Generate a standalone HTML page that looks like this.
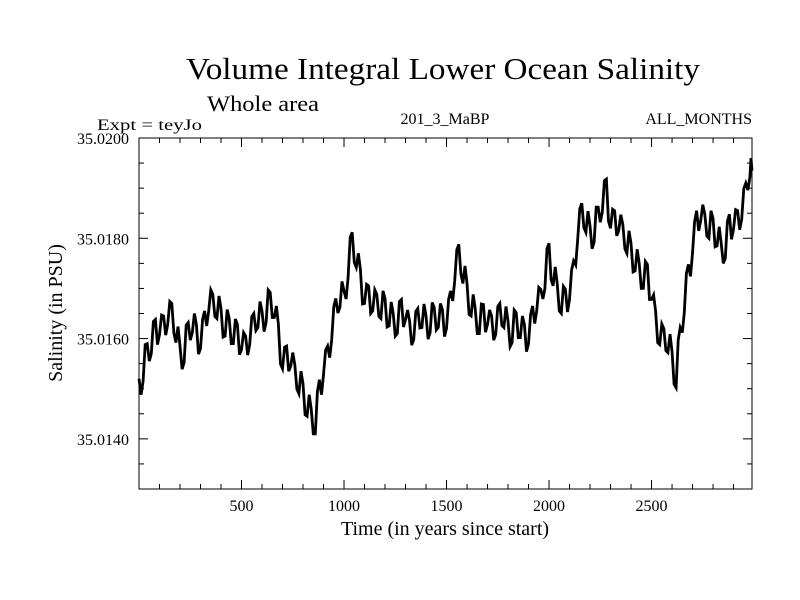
<!DOCTYPE html>
<html><head><meta charset="utf-8"><style>
html,body{margin:0;padding:0;background:#fff;}
svg{display:block;font-family:"Liberation Serif",serif;}
</style></head><body>
<svg id="chart" width="800" height="600" viewBox="0 0 800 600">
<text x="443" y="79" font-size="31" text-anchor="middle" textLength="514" lengthAdjust="spacingAndGlyphs">Volume Integral Lower Ocean Salinity</text>
<text x="207" y="111" font-size="22" textLength="112" lengthAdjust="spacingAndGlyphs">Whole area</text>
<text x="97" y="130" font-size="16" textLength="105" lengthAdjust="spacingAndGlyphs">Expt = teyJo</text>
<text x="445" y="124" font-size="16" text-anchor="middle">201_3_MaBP</text>
<text x="752" y="124" font-size="16" text-anchor="end">ALL_MONTHS</text>
<g id="axes"></g>
<g id="series"></g>
<rect x="139" y="138" width="613" height="351" fill="none" stroke="#000" stroke-width="1"/>
<text x="445" y="535" font-size="20" text-anchor="middle">Time (in years since start)</text>
<text transform="translate(62,313) rotate(-90)" font-size="20" text-anchor="middle">Salinity (in PSU)</text>
</svg>
<script>
const xTicks=[500,1000,1500,2000,2500];
const xTickLabels=["500","1000","1500","2000","2500"];
const yTicks=[35.014,35.016,35.018,35.020];
const yTickLabels=["35.0140","35.0160","35.0180","35.0200"];
// values at years 0,20,...,2980,2990
const salinity=[35.01520,35.01515,35.01590,35.01570,35.01638,35.01608,35.01645,35.01628,35.01670,35.01592,
35.01585,35.01552,35.01632,35.01612,35.01628,35.01580,35.01655,35.01655,35.01688,35.01640,
35.01660,35.01605,35.01640,35.01590,35.01628,35.01578,35.01605,35.01588,35.01650,35.01622,
35.01655,35.01632,35.01692,35.01642,35.01628,35.01540,35.01585,35.01545,35.01548,35.01490,
35.01510,35.01445,35.01460,35.01410,35.01518,35.01528,35.01585,35.01598,35.01680,35.01662,
35.01695,35.01722,35.01812,35.01742,35.01738,35.01670,35.01705,35.01655,35.01688,35.01640,
35.01680,35.01625,35.01650,35.01610,35.01678,35.01638,35.01635,35.01598,35.01660,35.01622,
35.01645,35.01612,35.01662,35.01622,35.01658,35.01620,35.01695,35.01715,35.01788,35.01710,
35.01710,35.01645,35.01660,35.01610,35.01668,35.01628,35.01645,35.01608,35.01670,35.01622,
35.01635,35.01592,35.01652,35.01602,35.01628,35.01590,35.01665,35.01655,35.01698,35.01700,
35.01790,35.01705,35.01710,35.01650,35.01698,35.01678,35.01755,35.01798,35.01870,35.01812,
35.01825,35.01792,35.01862,35.01852,35.01918,35.01820,35.01855,35.01815,35.01828,35.01770,
35.01790,35.01735,35.01750,35.01700,35.01748,35.01678,35.01655,35.01588,35.01620,35.01572,
35.01575,35.01502,35.01622,35.01652,35.01748,35.01770,35.01855,35.01835,35.01848,35.01800,
35.01840,35.01785,35.01790,35.01760,35.01848,35.01818,35.01855,35.01838,35.01910,35.01922,35.01935];
// in-between values at years 10,30,...,2970,2985
const salinityMid=[35.01488,35.01588,35.01555,35.01634,35.01588,35.01647,35.01607,35.01674,35.01611,35.01624,
35.01539,35.01627,35.01597,35.01650,35.01569,35.01638,35.01625,35.01697,35.01644,35.01685,
35.01603,35.01658,35.01590,35.01639,35.01568,35.01612,35.01567,35.01644,35.01616,35.01674,
35.01614,35.01697,35.01642,35.01665,35.01549,35.01583,35.01535,35.01572,35.01499,35.01535,
35.01448,35.01488,35.01410,35.01494,35.01488,35.01577,35.01562,35.01664,35.01651,35.01714,
35.01679,35.01802,35.01752,35.01770,35.01669,35.01708,35.01650,35.01697,35.01644,35.01695,
35.01623,35.01673,35.01605,35.01674,35.01623,35.01657,35.01587,35.01654,35.01621,35.01669,
35.01599,35.01672,35.01617,35.01670,35.01604,35.01678,35.01675,35.01777,35.01729,35.01745,
35.01648,35.01688,35.01610,35.01669,35.01613,35.01657,35.01597,35.01664,35.01626,35.01664,
35.01584,35.01657,35.01602,35.01645,35.01574,35.01648,35.01630,35.01702,35.01679,35.01780,
35.01718,35.01743,35.01655,35.01704,35.01653,35.01737,35.01747,35.01859,35.01821,35.01854,
35.01779,35.01862,35.01832,35.01915,35.01834,35.01858,35.01805,35.01847,35.01779,35.01815,
35.01733,35.01778,35.01700,35.01754,35.01678,35.01687,35.01592,35.01629,35.01576,35.01609,
35.01509,35.01597,35.01612,35.01730,35.01724,35.01833,35.01815,35.01867,35.01804,35.01855,
35.01783,35.01823,35.01750,35.01834,35.01798,35.01857,35.01817,35.01899,35.01896,35.01960];
const years=[];
for(let i=0;i<150;i++) years.push(i*20);
years.push(2990);
const midYears=[];
for(let i=0;i<149;i++) midYears.push(i*20+10);
midYears.push(2985);

const NS="http://www.w3.org/2000/svg";
const L=139,R=752,T=138,B=489;
const xMin=0,xMax=2990,yMin=35.013,yMax=35.020;
function xs(v){return L+(v-xMin)/(xMax-xMin)*(R-L);}
function ys(v){return B-(v-yMin)/(yMax-yMin)*(B-T);}
const axes=document.getElementById('axes');
function line(x1,y1,x2,y2,name){
  const l=document.createElementNS(NS,'line');
  l.setAttribute('x1',x1);l.setAttribute('y1',y1);l.setAttribute('x2',x2);l.setAttribute('y2',y2);
  l.setAttribute('stroke','#000');l.setAttribute('stroke-width','1');
  
  
  axes.appendChild(l);
}
for(let t=100;t<xMax;t+=100){
  const major=t%500===0;const len=major?9:5;const x=xs(t);
  line(x,B,x,B-len,'x-tick');
  line(x,T,x,T+len,'x-tick-top');
}
for(let k=135;k<200;k+=5){
  const vv=35+k/10000;
  const major=(k%20===0);
  const len=major?9:5;const y=ys(vv);
  line(L,y,L+len,y,'y-tick');
  line(R,y,R-len,y,'y-tick-right');
}
xTicks.forEach((t,i)=>{
  const tx=document.createElementNS(NS,'text');
  tx.setAttribute('x',xs(t));tx.setAttribute('y',511);tx.setAttribute('font-size','16');tx.setAttribute('text-anchor','middle');
  tx.textContent=xTickLabels[i];
  
  
  axes.appendChild(tx);
});
yTicks.forEach((t,i)=>{
  const tx=document.createElementNS(NS,'text');
  tx.setAttribute('x',129);tx.setAttribute('y',ys(t)+6);tx.setAttribute('font-size','16');tx.setAttribute('text-anchor','end');
  tx.setAttribute('textLength','52');tx.setAttribute('lengthAdjust','spacingAndGlyphs');
  tx.textContent=yTickLabels[i];
  
  
  axes.appendChild(tx);
});
const pts=[];
salinity.forEach((v,i)=>pts.push([years[i],v]));
salinityMid.forEach((v,i)=>pts.push([midYears[i],v]));
pts.sort((a,b)=>a[0]-b[0]);
const p=document.createElementNS(NS,'polyline');
p.setAttribute('points',pts.map(d=>xs(d[0]).toFixed(1)+','+ys(d[1]).toFixed(1)).join(' '));
p.setAttribute('fill','none');p.setAttribute('stroke','#000');p.setAttribute('stroke-width','2.8');p.setAttribute('stroke-linejoin','miter');


document.getElementById('series').appendChild(p);
</script>
</body></html>
